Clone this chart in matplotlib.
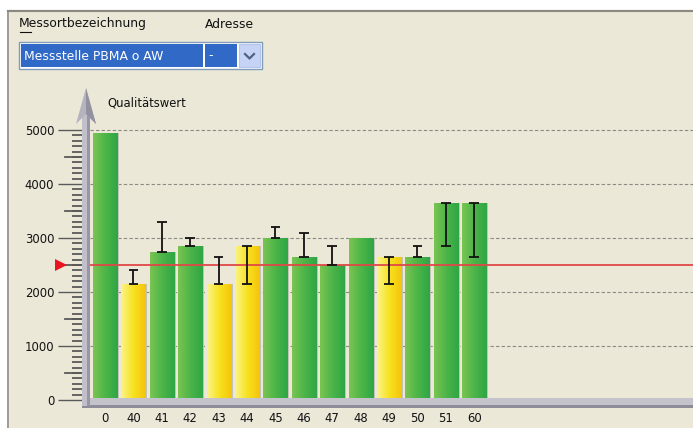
import numpy as np
import matplotlib.pyplot as plt
from matplotlib.patches import Rectangle, Polygon
from matplotlib.lines import Line2D
from matplotlib.colors import LinearSegmentedColormap
import matplotlib.transforms as mtransforms

# Messstellen und Qualitaetswerte
stations = ['0', '40', '41', '42', '43', '44', '45', '46', '47', '48', '49', '50', '51', '60']
values = [4950, 2150, 2750, 2850, 2150, 2850, 3000, 2650, 2500, 3000, 2650, 2650, 3650, 3650]
status = ['g', 'y', 'g', 'g', 'y', 'y', 'g', 'g', 'g', 'g', 'y', 'g', 'g', 'g']
err_low = [np.nan, 2150, 2750, 2850, 2150, 2150, 3000, 2650, 2500, np.nan, 2150, 2650, 2850, 2650]
err_high = [np.nan, 2400, 3300, 3000, 2650, 2850, 3200, 3100, 2850, np.nan, 2650, 2850, 3650, 3650]
threshold = 2500
y_major = [0, 1000, 2000, 3000, 4000, 5000]

W, H = 693, 428
BG = '#ebe8d8'
FONT = 'DejaVu Sans'
FS = 8.4      # tick labels
FS_H = 8.9    # header texts


def fx(x):
    return x / W


def fy(y):
    return 1 - y / H


fig = plt.figure(figsize=(W / 100, H / 100), dpi=100)
fig.patch.set_facecolor(BG)

# window frame
fig.patches.append(Rectangle((0, fy(11)), 1, 1, transform=fig.transFigure, color='white', zorder=0))
fig.patches.append(Rectangle((0, 0), fx(8), 1, transform=fig.transFigure, color='white', zorder=0))
fig.lines.append(Line2D([fx(8), 1], [fy(11), fy(11)], transform=fig.transFigure, color='#8c8a80', lw=1.6))
fig.lines.append(Line2D([fx(8), fx(8)], [0, fy(11)], transform=fig.transFigure, color='#8c8a80', lw=1.2))

# header / combobox
fig.text(fx(19), fy(24), 'Messortbezeichnung', fontsize=FS_H, family=FONT, va='center', color='#111111')
fig.lines.append(Line2D([fx(20), fx(31)], [fy(32), fy(32)], transform=fig.transFigure, color='#111111', lw=0.8))
fig.text(fx(205), fy(24), 'Adresse', fontsize=FS_H, family=FONT, va='center', color='#111111')
fig.patches.append(Rectangle((fx(19), fy(69)), fx(243), fy(42) - fy(69), transform=fig.transFigure,
                             facecolor='white', edgecolor='#7f9db9', lw=1))
fig.patches.append(Rectangle((fx(21), fy(67)), fx(182), fy(44) - fy(67), transform=fig.transFigure,
                             facecolor='#3169c6', edgecolor='none'))
fig.patches.append(Rectangle((fx(205), fy(67)), fx(32), fy(44) - fy(67), transform=fig.transFigure,
                             facecolor='#3169c6', edgecolor='none'))
fig.patches.append(Rectangle((fx(239), fy(67)), fx(21), fy(44) - fy(67), transform=fig.transFigure,
                             facecolor='#c6d3f7', edgecolor='#b4c4ee', lw=0.8))
fig.lines.append(Line2D([fx(245), fx(249.5), fx(254)], [fy(54), fy(58.5), fy(54)], transform=fig.transFigure,
                        color='#4d6185', lw=1.6))
fig.text(fx(24), fy(56), 'Messstelle PBMA o AW', fontsize=FS_H, family=FONT, va='center', color='white')
fig.text(fx(208), fy(56), '-', fontsize=FS_H, family=FONT, va='center', color='white')

# chart axes: left edge at x=82px, y=0 at 400px, 5000 at 130px
ax_left, ax_bottom_px, ax_top_px = 82, 400, 90
ax = fig.add_axes([fx(ax_left), fy(ax_bottom_px), 1 - fx(ax_left), fy(ax_top_px) - fy(ax_bottom_px)])
ax.set_facecolor('none')
px_per_unit = 28.4
x_first = 105
xlim = ((ax_left - x_first) / px_per_unit, (W - x_first) / px_per_unit)
ylim = (0, (ax_bottom_px - ax_top_px) / 54 * 1000)
for s in ax.spines.values():
    s.set_visible(False)

x = np.arange(len(stations))

# dashed grid lines
for v in y_major[1:]:
    ax.plot([(90 - x_first) / px_per_unit, xlim[1]], [v, v], color='#8a8a80',
            lw=0.8, dashes=(3, 2), zorder=1)

green_cmap = LinearSegmentedColormap.from_list('g', ['#7ac452', '#4cb548', '#2ea645'])
yellow_cmap = LinearSegmentedColormap.from_list('y', ['#fbf38a', '#f7e21e', '#f4c40c'])
grad = np.linspace(0, 1, 64).reshape(1, -1)
width = 0.85

# shadows
ax.bar(x + 0.07, values, width=width, color='#c4c2b6', zorder=2, linewidth=0)
bars = ax.bar(x, values, width=width, color='none', zorder=3, linewidth=0)
for b, st in zip(bars, status):
    x0 = b.get_x()
    im = ax.imshow(grad, extent=[x0, x0 + b.get_width(), 0, b.get_height()], aspect='auto',
                   cmap=green_cmap if st == 'g' else yellow_cmap, zorder=3, interpolation='bilinear')
    im.set_clip_path(b)
ax.set_xlim(*xlim)
ax.set_ylim(*ylim)

# error ranges
lo = np.array(err_low)
hi = np.array(err_high)
ok = ~np.isnan(lo)
ax.vlines(x[ok], lo[ok], hi[ok], color='#111111', lw=1.3, zorder=5)
for xi, l, h in zip(x[ok], lo[ok], hi[ok]):
    for v in (l, h):
        ax.plot([xi - 0.17, xi + 0.17], [v, v], color='#111111', lw=1.3, zorder=5, solid_capstyle='butt')

# threshold line + marker
ax.axhline(threshold, color='#e04848', lw=1.3, zorder=4)
trans = mtransforms.blended_transform_factory(ax.transAxes, ax.transData)
ax.plot([(61 - ax_left) / (W - ax_left)], [threshold], marker='>', color='#e8141e', markersize=8,
        transform=trans, clip_on=False, zorder=6, markeredgewidth=0)

# y ticks
tick_col = '#5a5a5a'
ax.set_yticks(y_major)
ax.set_yticklabels([str(v) for v in y_major], fontsize=FS, family=FONT, color='#111111')
ax.set_yticks(np.arange(0, 5001, 100), minor=True)
ax.tick_params(axis='y', which='major', length=17, width=1.0, color=tick_col, pad=3)
ax.tick_params(axis='y', which='minor', length=7, width=1.3, color=tick_col)
for v in range(500, 5000, 1000):
    ax.plot([-(ax_left - 65) / (W - ax_left), 0], [v, v], color=tick_col, lw=1.3,
            transform=trans, clip_on=False)

# x ticks
ax.set_xticks(x)
ax.set_xticklabels(stations, fontsize=FS, family=FONT, color='#111111')
ax.tick_params(axis='x', length=0, pad=9)

fig.text(fx(107), fy(103), 'Qualitätswert', fontsize=FS, family=FONT, va='center', color='#111111')

# 3d-ish axis bars
fig.patches.append(Rectangle((fx(82), fy(408)), 1 - fx(82), fy(398) - fy(408), transform=fig.transFigure,
                             facecolor='#c4c3cc', edgecolor='none', zorder=5))
fig.patches.append(Rectangle((fx(82), fy(408)), 1 - fx(82), fy(405) - fy(408), transform=fig.transFigure,
                             facecolor='#8e8c98', edgecolor='none', zorder=5))
fig.patches.append(Rectangle((fx(82), fy(406)), fx(8), fy(112) - fy(406), transform=fig.transFigure,
                             facecolor='#c0bfca', edgecolor='none', zorder=5))
fig.patches.append(Rectangle((fx(86.5), fy(406)), fx(3.5), fy(112) - fy(406), transform=fig.transFigure,
                             facecolor='#9896a6', edgecolor='none', zorder=5))
fig.patches.append(Polygon([(fx(76), fy(124)), (fx(86), fy(88)), (fx(96), fy(124)), (fx(86), fy(114))],
                           closed=True, transform=fig.transFigure, facecolor='#b4b3be', edgecolor='none',
                           zorder=5))
fig.patches.append(Polygon([(fx(86), fy(88)), (fx(96), fy(124)), (fx(86), fy(114))],
                           closed=True, transform=fig.transFigure, facecolor='#9391a0', edgecolor='none',
                           zorder=5))

fig.savefig('out.png', dpi=100, facecolor=fig.get_facecolor())
